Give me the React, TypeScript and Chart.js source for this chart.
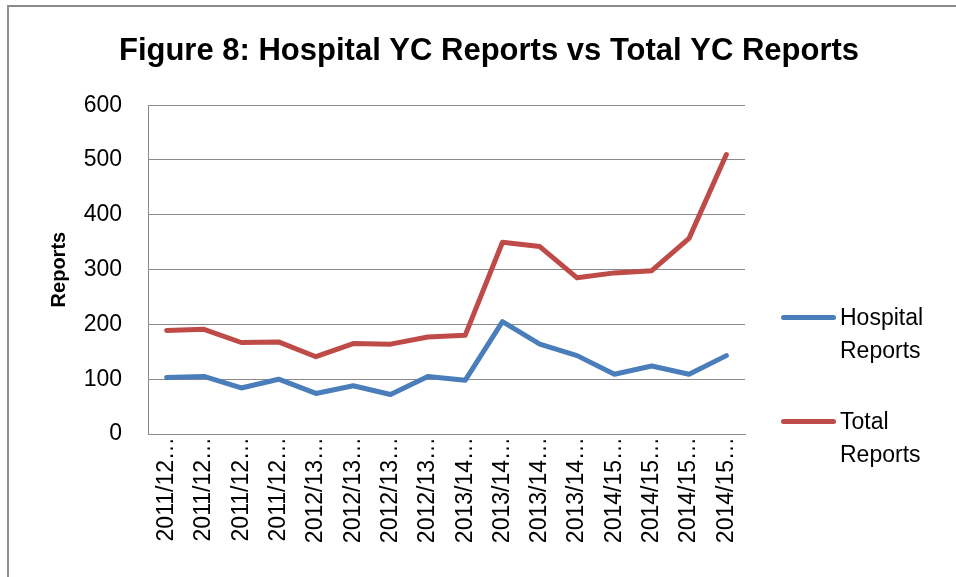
import React, { useEffect, useRef } from "react";
import { Chart, registerables } from "chart.js";

Chart.register(...registerables);

const categories = [
  "2011/12…", "2011/12…", "2011/12…", "2011/12…",
  "2012/13…", "2012/13…", "2012/13…", "2012/13…",
  "2013/14…", "2013/14…", "2013/14…", "2013/14…",
  "2014/15…", "2014/15…", "2014/15…", "2014/15…",
];
const hospitalReports = [103, 105, 84, 100, 74, 88, 72, 105, 98, 205, 164, 143, 109, 124, 109, 143];
const totalReports = [189, 191, 167, 168, 141, 165, 164, 177, 180, 350, 342, 285, 294, 298, 357, 510];
const seriesNames = ["Hospital Reports", "Total Reports"];
const seriesColors = ["#4A7EBB", "#BE4B48"];
const titleText = "Figure 8: Hospital YC Reports vs Total YC Reports";
const yAxisTitle = "Reports";
const yMin = 0;
const yMax = 600;
const yStep = 100;

const FONT = "'Liberation Sans', Arial, sans-serif";

export default function App() {
  const ref = useRef<HTMLCanvasElement | null>(null);

  useEffect(() => {
    if (!ref.current) return;
    const chart = new Chart(ref.current, {
      type: "line",
      data: {
        labels: categories,
        datasets: [
          {
            label: seriesNames[0],
            data: hospitalReports,
            borderColor: seriesColors[0],
            backgroundColor: seriesColors[0],
            borderWidth: 5,
            pointRadius: 0,
            tension: 0,
            borderCapStyle: "round",
            borderJoinStyle: "round",
          },
          {
            label: seriesNames[1],
            data: totalReports,
            borderColor: seriesColors[1],
            backgroundColor: seriesColors[1],
            borderWidth: 5,
            pointRadius: 0,
            tension: 0,
            borderCapStyle: "round",
            borderJoinStyle: "round",
          },
        ],
      },
      options: {
        responsive: false,
        animation: false,
        devicePixelRatio: 1,
        layout: { padding: { left: 22, right: 0, top: 0, bottom: 0 } },
        plugins: {
          legend: { display: false },
          tooltip: { enabled: false },
          title: {
            display: true,
            text: titleText,
            color: "#000",
            font: { family: FONT, size: 31, weight: "bold" },
            padding: { top: 33, bottom: 35 },
          },
        },
        scales: {
          x: {
            type: "category",
            offset: true,
            grid: { display: false, drawTicks: false },
            border: { display: true, color: "#8a8a8a", width: 1 },
            ticks: {
              autoSkip: false,
              minRotation: 90,
              maxRotation: 90,
              padding: 3,
              color: "#000",
              font: { family: FONT, size: 23 },
            },
            afterFit: (s: any) => {
              s.height = 143;
            },
          },
          y: {
            type: "linear",
            position: "left",
            min: yMin,
            max: yMax,
            ticks: {
              stepSize: yStep,
              padding: 26,
              color: "#000",
              font: { family: FONT, size: 23 },
            },
            grid: { color: "#8a8a8a", lineWidth: 1, drawTicks: false },
            border: { display: true, color: "#8a8a8a", width: 1 },
            title: {
              display: true,
              text: yAxisTitle,
              color: "#000",
              font: { family: FONT, size: 20, weight: "bold" },
              padding: { top: 25, bottom: 0 },
            },
            afterFit: (s: any) => {
              s.width = 126;
            },
          },
          yR: {
            type: "linear",
            position: "right",
            display: true,
            grid: { display: false, drawTicks: false },
            border: { display: false },
            ticks: { display: false },
            afterFit: (s: any) => {
              s.width = 211;
            },
          },
        },
      },
    });
    return () => chart.destroy();
  }, []);

  const legendItem = (i: number, top: number) => {
    const words = seriesNames[i].split(" ");
    return (
      <div key={i} style={{ position: "absolute", left: 781, top: top - 16.5 }}>
        <div
          style={{
            position: "absolute",
            left: 0,
            top: 14,
            width: 55,
            height: 5,
            borderRadius: 3,
            background: seriesColors[i],
          }}
        />
        <div
          style={{
            position: "absolute",
            left: 59,
            top: 0,
            fontFamily: FONT,
            fontSize: 23,
            lineHeight: "33px",
            color: "#000",
            whiteSpace: "nowrap",
          }}
        >
          {words.map((w, k) => (
            <div key={k}>{w}</div>
          ))}
        </div>
      </div>
    );
  };

  return (
    <div
      style={{
        position: "fixed",
        left: 0,
        top: 0,
        width: 956,
        height: 577,
        overflow: "hidden",
        background: "#fff",
      }}
    >
      <canvas ref={ref} width={956} height={577} style={{ position: "absolute", left: 0, top: 0, width: 956, height: 577 }} />
      <div
        style={{
          position: "absolute",
          left: 7,
          top: 5,
          width: 1200,
          height: 1200,
          borderLeft: "2px solid #909090",
          borderTop: "2px solid #8a8a8a",
          pointerEvents: "none",
        }}
      />
      {legendItem(0, 317)}
      {legendItem(1, 421)}
    </div>
  );
}
